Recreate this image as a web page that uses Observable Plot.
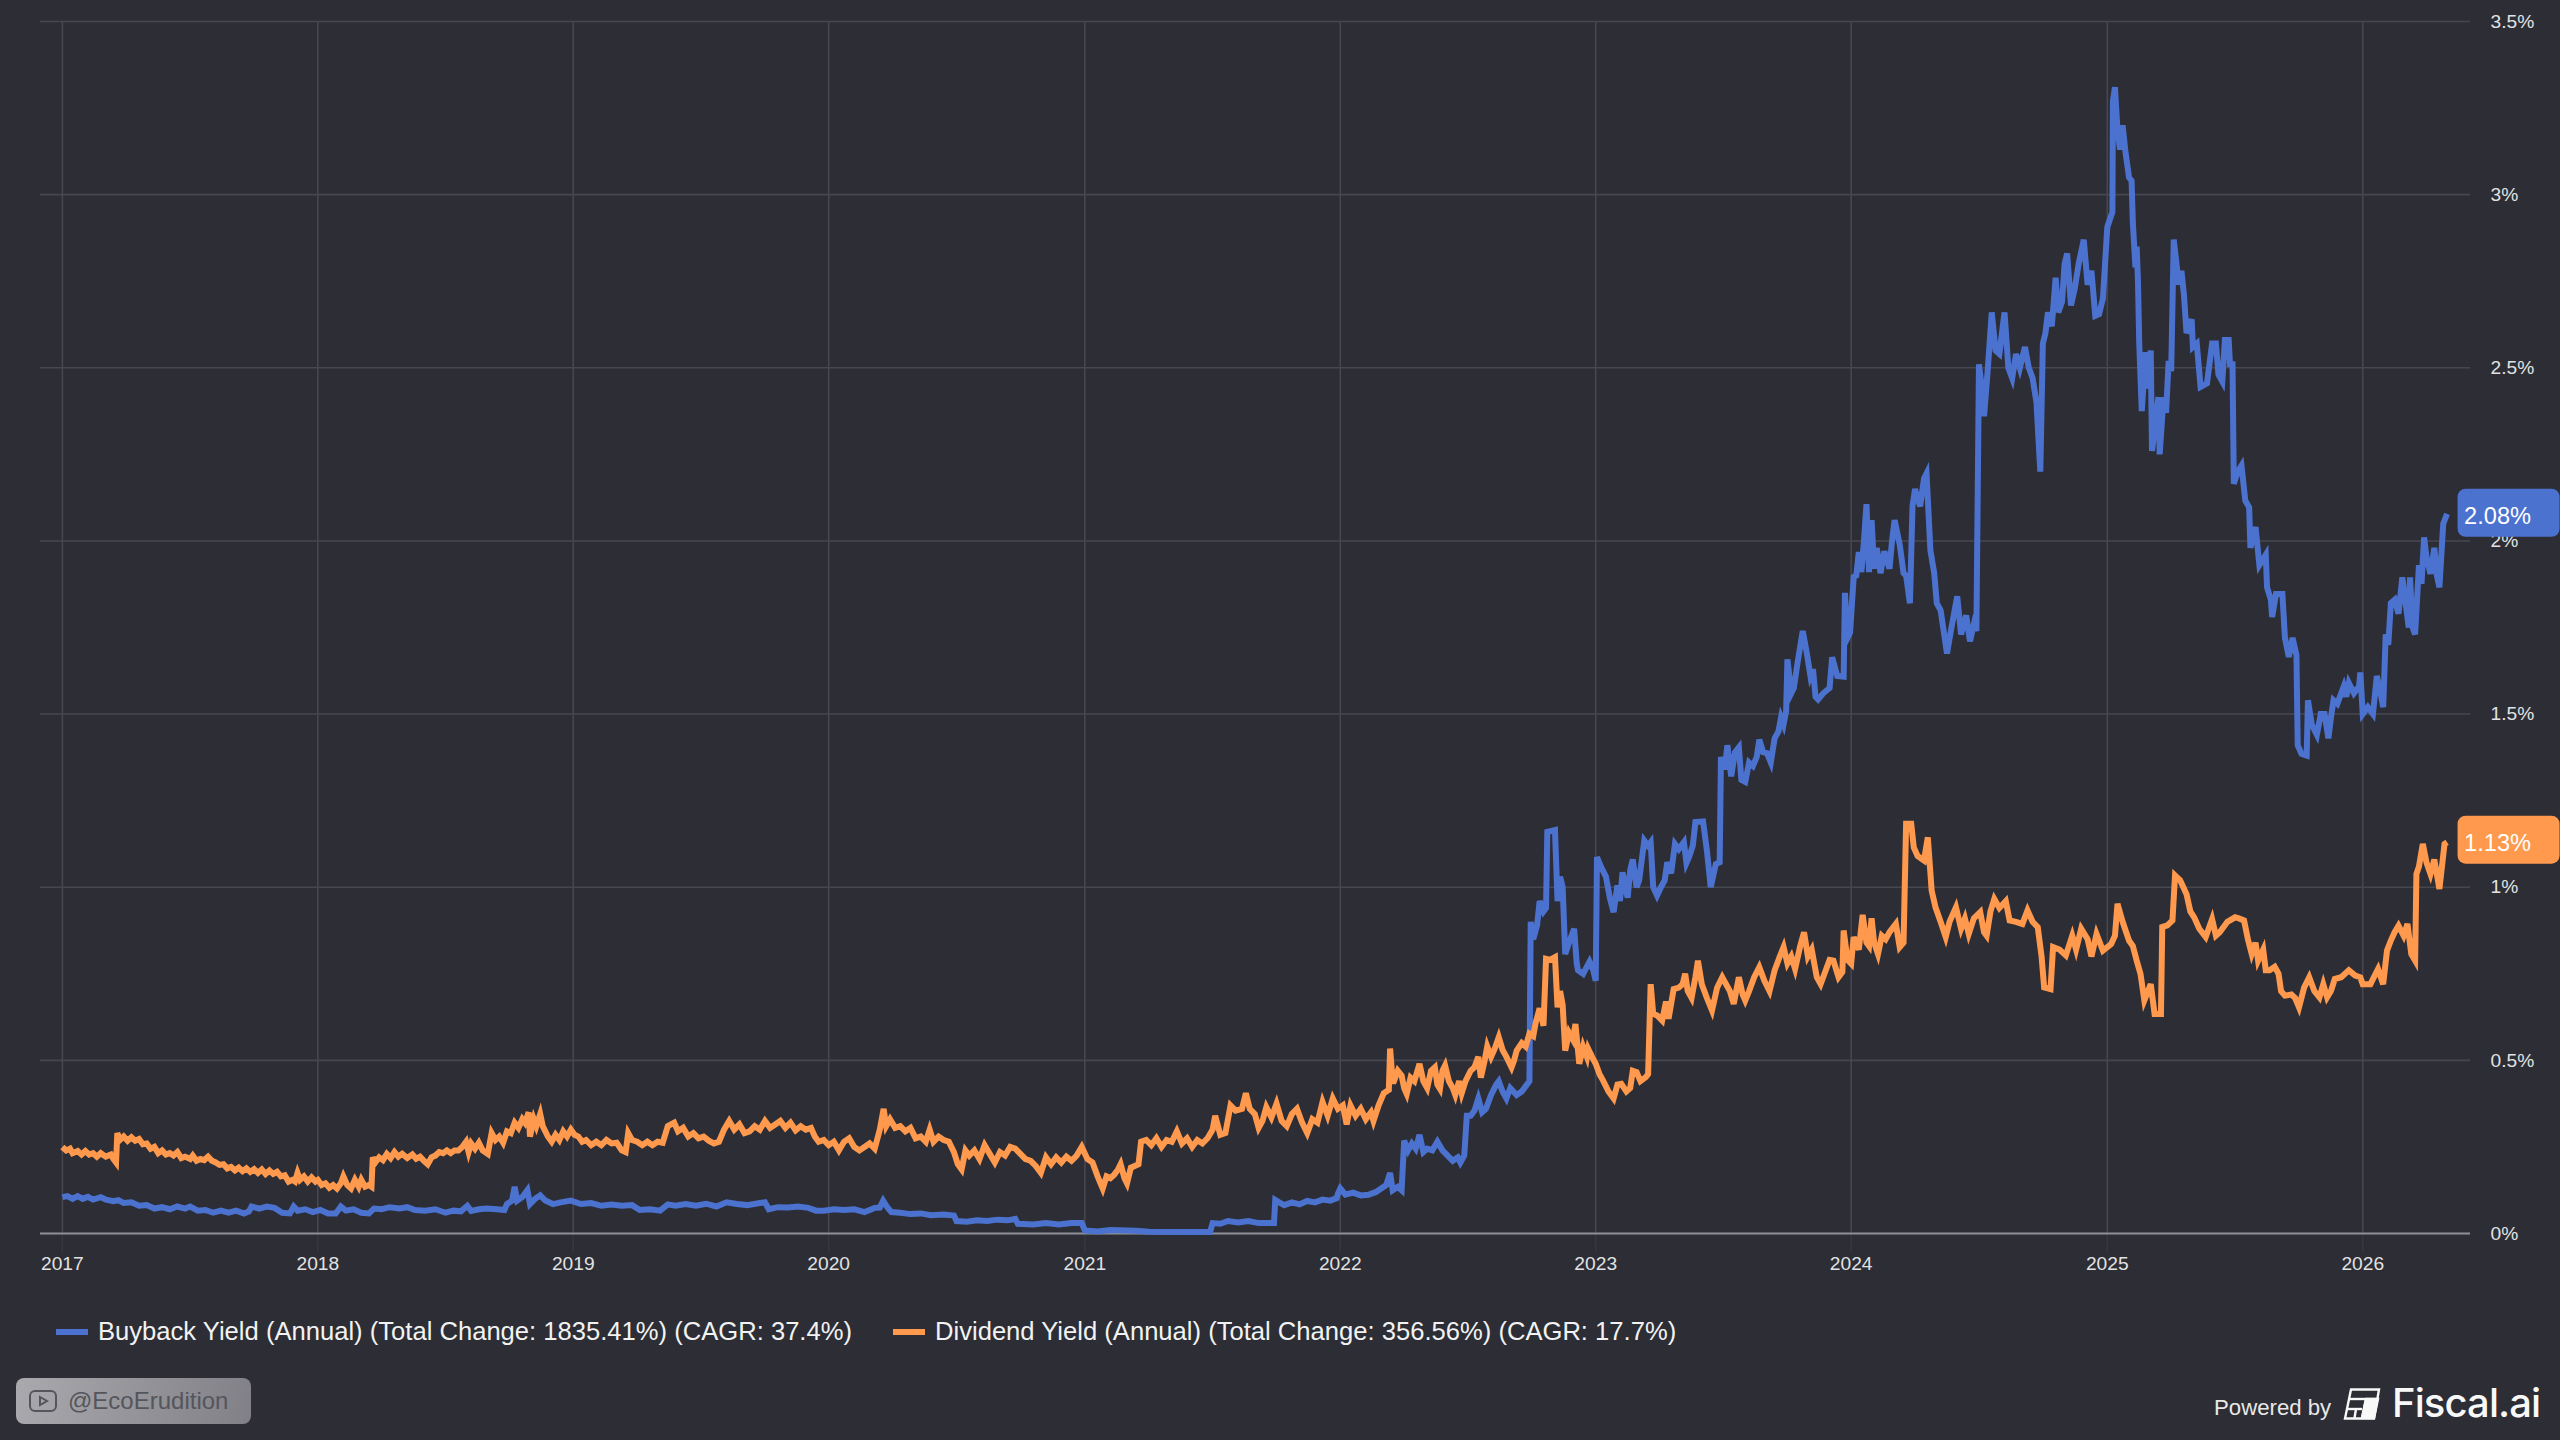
<!DOCTYPE html>
<html><head><meta charset="utf-8">
<script src="https://cdn.jsdelivr.net/npm/d3@7"></script>
<script src="https://cdn.jsdelivr.net/npm/@observablehq/plot@0.6"></script>
<style>
html,body{margin:0;padding:0;background:#2c2d35;width:2560px;height:1440px;overflow:hidden;font-family:"Liberation Sans",Arial,sans-serif}
#chart{position:absolute;left:0;top:0}
.leg{position:absolute;top:1316px;line-height:30px;font-size:25.6px;color:#f2f2f2;white-space:nowrap}
.sw{position:absolute;top:1329px;height:6px;width:32px}
#wm{position:absolute;left:16px;top:1378px;width:235px;height:46px;border-radius:8px;background:linear-gradient(100deg,#a9a9ae,#808086)}
#wm span{position:absolute;left:52px;top:8px;line-height:30px;font-size:24px;color:#55555c}
#wm svg{position:absolute;left:13px;top:12px}
#pw{position:absolute;left:2214px;top:1394px;line-height:28px;font-size:22.2px;color:#e8e8e8;white-space:nowrap}
#fa{position:absolute;left:2392px;top:1379px;line-height:48px;font-size:40px;font-family:Inter,sans-serif;font-weight:500;color:#f8f8f8;white-space:nowrap;letter-spacing:-.9px}
#fi{position:absolute;left:2343px;top:1388px}
</style></head><body>
<div id="chart"></div>
<div class="sw" style="left:56px;background:#4c72cf"></div>
<div class="leg" style="left:98px">Buyback Yield (Annual) (Total Change: 1835.41%) (CAGR: 37.4%)</div>
<div class="sw" style="left:893px;background:#ff994d"></div>
<div class="leg" style="left:935px">Dividend Yield (Annual) (Total Change: 356.56%) (CAGR: 17.7%)</div>
<div id="wm"><svg width="28" height="24" viewBox="0 0 28 24" fill="none" stroke="#55555c" stroke-width="2"><rect x="1" y="1" width="26" height="20" rx="5"/><path d="M11 7l7 4-7 4z"/></svg><span>@EcoErudition</span></div>
<div id="pw">Powered by</div>
<svg id="fi" width="38" height="32" viewBox="0 0 38 32" fill="none" stroke="#f8f8f8" stroke-width="2.4"><path d="M8 1.5H36L31 30.5H2z"/><path d="M5.5 11H34"/><path d="M3.8 21H19"/><path d="M13 21L11.5 30"/><path d="M23 11L19 30"/><path d="M23 11H35L31 30H19z" fill="#f8f8f8"/></svg>
<div id="fa">Fiscal.ai</div>
<script>
const yTicks=[0,0.5,1,1.5,2,2.5,3,3.5];
const yearTicks=[2017,2018,2019,2020,2021,2022,2023,2024,2025,2026];
const lastBuyback=2.08, lastDividend=1.13;
const dividendYield=[[2017,.25],[2017.015,.24],[2017.03,.245],[2017.04,.232],[2017.06,.238],[2017.075,.228],[2017.09,.238],[2017.105,.228],[2017.12,.232],[2017.135,.222],[2017.15,.232],[2017.17,.222],[2017.19,.228],[2017.2,.215],[2017.21,.205],[2017.215,.29],[2017.225,.27],[2017.24,.28],[2017.255,.268],[2017.27,.278],[2017.285,.268],[2017.3,.273],[2017.315,.258],[2017.33,.26],[2017.345,.245],[2017.36,.25],[2017.375,.232],[2017.39,.24],[2017.405,.228],[2017.42,.232],[2017.435,.225],[2017.45,.235],[2017.465,.218],[2017.48,.222],[2017.5,.215],[2017.51,.225],[2017.525,.21],[2017.54,.215],[2017.555,.212],[2017.57,.222],[2017.585,.21],[2017.6,.205],[2017.615,.198],[2017.63,.2],[2017.645,.188],[2017.66,.192],[2017.675,.182],[2017.69,.19],[2017.705,.18],[2017.72,.188],[2017.735,.178],[2017.75,.186],[2017.765,.175],[2017.78,.185],[2017.795,.172],[2017.81,.182],[2017.825,.172],[2017.84,.178],[2017.855,.165],[2017.87,.168],[2017.885,.15],[2017.9,.155],[2017.91,.15],[2017.92,.175],[2017.93,.155],[2017.945,.165],[2017.96,.15],[2017.975,.162],[2017.99,.15],[2018,.155],[2018.015,.14],[2018.03,.145],[2018.045,.132],[2018.06,.14],[2018.075,.13],[2018.09,.145],[2018.1,.165],[2018.115,.14],[2018.13,.13],[2018.145,.155],[2018.16,.135],[2018.17,.155],[2018.185,.135],[2018.2,.14],[2018.21,.135],[2018.215,.22],[2018.225,.205],[2018.24,.22],[2018.255,.212],[2018.27,.23],[2018.285,.218],[2018.3,.235],[2018.315,.222],[2018.33,.23],[2018.35,.218],[2018.37,.228],[2018.385,.216],[2018.4,.222],[2018.415,.21],[2018.43,.2],[2018.445,.22],[2018.46,.225],[2018.475,.235],[2018.49,.232],[2018.505,.24],[2018.52,.232],[2018.535,.24],[2018.55,.24],[2018.565,.25],[2018.58,.265],[2018.59,.235],[2018.6,.26],[2018.615,.245],[2018.63,.262],[2018.645,.24],[2018.665,.23],[2018.68,.29],[2018.695,.27],[2018.71,.28],[2018.725,.262],[2018.74,.295],[2018.755,.29],[2018.77,.32],[2018.785,.305],[2018.8,.33],[2018.81,.32],[2018.825,.35],[2018.83,.28],[2018.845,.33],[2018.855,.31],[2018.87,.345],[2018.88,.31],[2018.9,.28],[2018.915,.265],[2018.93,.285],[2018.945,.27],[2018.96,.295],[2018.975,.28],[2018.99,.3],[2019.005,.285],[2019.02,.28],[2019.035,.265],[2019.05,.27],[2019.07,.255],[2019.09,.265],[2019.11,.255],[2019.13,.27],[2019.15,.26],[2019.17,.262],[2019.19,.24],[2019.205,.235],[2019.215,.29],[2019.23,.27],[2019.25,.265],[2019.27,.255],[2019.29,.265],[2019.31,.255],[2019.33,.265],[2019.35,.262],[2019.37,.31],[2019.395,.32],[2019.41,.295],[2019.43,.305],[2019.45,.28],[2019.47,.29],[2019.49,.275],[2019.51,.28],[2019.53,.268],[2019.55,.26],[2019.57,.265],[2019.59,.3],[2019.61,.325],[2019.63,.3],[2019.65,.315],[2019.67,.29],[2019.69,.295],[2019.71,.31],[2019.73,.3],[2019.75,.325],[2019.77,.305],[2019.79,.315],[2019.81,.325],[2019.83,.305],[2019.85,.32],[2019.87,.298],[2019.89,.31],[2019.91,.3],[2019.93,.305],[2019.945,.28],[2019.96,.265],[2019.98,.27],[2020,.255],[2020.02,.265],[2020.04,.24],[2020.06,.265],[2020.08,.275],[2020.1,.25],[2020.12,.24],[2020.14,.25],[2020.16,.26],[2020.18,.245],[2020.2,.3],[2020.215,.36],[2020.225,.31],[2020.24,.33],[2020.26,.305],[2020.28,.31],[2020.3,.295],[2020.32,.305],[2020.34,.275],[2020.36,.28],[2020.38,.265],[2020.395,.3],[2020.41,.265],[2020.43,.28],[2020.45,.27],[2020.47,.265],[2020.49,.235],[2020.505,.2],[2020.52,.185],[2020.535,.24],[2020.55,.225],[2020.57,.24],[2020.59,.215],[2020.61,.255],[2020.63,.23],[2020.65,.205],[2020.67,.235],[2020.69,.225],[2020.71,.25],[2020.73,.245],[2020.75,.23],[2020.77,.215],[2020.79,.21],[2020.81,.195],[2020.83,.175],[2020.85,.22],[2020.87,.2],[2020.89,.22],[2020.91,.205],[2020.93,.222],[2020.95,.21],[2020.97,.225],[2020.99,.25],[2021.01,.215],[2021.03,.205],[2021.05,.165],[2021.07,.13],[2021.085,.165],[2021.1,.16],[2021.115,.17],[2021.13,.185],[2021.14,.2],[2021.155,.16],[2021.165,.145],[2021.18,.19],[2021.195,.195],[2021.21,.2],[2021.22,.265],[2021.24,.27],[2021.26,.255],[2021.28,.275],[2021.3,.25],[2021.32,.27],[2021.34,.265],[2021.36,.295],[2021.38,.26],[2021.4,.275],[2021.42,.25],[2021.44,.27],[2021.46,.26],[2021.48,.275],[2021.5,.3],[2021.51,.34],[2021.53,.285],[2021.55,.29],[2021.57,.37],[2021.59,.355],[2021.615,.36],[2021.63,.405],[2021.645,.36],[2021.665,.345],[2021.68,.305],[2021.695,.325],[2021.71,.365],[2021.73,.335],[2021.75,.375],[2021.77,.325],[2021.79,.31],[2021.81,.345],[2021.83,.36],[2021.85,.32],[2021.87,.29],[2021.89,.33],[2021.91,.32],[2021.93,.38],[2021.95,.34],[2021.97,.39],[2021.99,.36],[2022.01,.37],[2022.025,.315],[2022.04,.37],[2022.06,.34],[2022.08,.36],[2022.1,.33],[2022.12,.35],[2022.13,.325],[2022.15,.37],[2022.17,.405],[2022.19,.415],[2022.195,.534],[2022.205,.44],[2022.21,.44],[2022.225,.47],[2022.24,.456],[2022.25,.42],[2022.26,.403],[2022.275,.45],[2022.29,.44],[2022.31,.49],[2022.325,.44],[2022.34,.42],[2022.355,.47],[2022.37,.48],[2022.38,.43],[2022.39,.418],[2022.4,.47],[2022.41,.485],[2022.425,.44],[2022.44,.42],[2022.45,.4],[2022.465,.44],[2022.475,.405],[2022.49,.44],[2022.51,.47],[2022.525,.48],[2022.54,.51],[2022.55,.45],[2022.565,.5],[2022.575,.54],[2022.59,.51],[2022.605,.535],[2022.62,.567],[2022.635,.53],[2022.65,.51],[2022.67,.48],[2022.68,.5],[2022.69,.528],[2022.71,.55],[2022.725,.54],[2022.74,.577],[2022.755,.57],[2022.765,.61],[2022.78,.65],[2022.795,.6],[2022.805,.793],[2022.82,.79],[2022.84,.798],[2022.85,.653],[2022.86,.7],[2022.87,.66],[2022.88,.528],[2022.895,.58],[2022.91,.56],[2022.92,.605],[2022.935,.49],[2022.95,.54],[2022.965,.51],[2022.97,.533],[2022.985,.51],[2023,.49],[2023.015,.46],[2023.03,.44],[2023.05,.41],[2023.07,.39],[2023.085,.43],[2023.1,.432],[2023.12,.41],[2023.135,.42],[2023.145,.47],[2023.16,.466],[2023.175,.44],[2023.195,.451],[2023.205,.46],[2023.215,.72],[2023.225,.634],[2023.24,.63],[2023.26,.615],[2023.275,.67],[2023.285,.62],[2023.305,.706],[2023.325,.71],[2023.34,.72],[2023.35,.75],[2023.36,.7],[2023.375,.68],[2023.39,.74],[2023.4,.788],[2023.415,.72],[2023.435,.68],[2023.455,.644],[2023.475,.71],[2023.495,.74],[2023.51,.72],[2023.525,.7],[2023.54,.663],[2023.56,.74],[2023.575,.69],[2023.585,.673],[2023.6,.7],[2023.62,.74],[2023.64,.769],[2023.66,.73],[2023.68,.7],[2023.7,.76],[2023.72,.8],[2023.735,.827],[2023.75,.78],[2023.765,.8],[2023.78,.764],[2023.8,.83],[2023.815,.87],[2023.83,.8],[2023.845,.82],[2023.865,.74],[2023.88,.72],[2023.9,.76],[2023.915,.79],[2023.93,.788],[2023.95,.74],[2023.965,.755],[2023.97,.875],[2023.985,.79],[2024,.779],[2024.01,.856],[2024.03,.82],[2024.045,.92],[2024.06,.84],[2024.07,.83],[2024.08,.91],[2024.09,.84],[2024.105,.807],[2024.12,.86],[2024.135,.85],[2024.15,.87],[2024.175,.894],[2024.19,.827],[2024.205,.84],[2024.215,1.183],[2024.235,1.183],[2024.245,1.115],[2024.26,1.09],[2024.285,1.077],[2024.3,1.144],[2024.315,.99],[2024.33,.942],[2024.35,.9],[2024.37,.856],[2024.385,.9],[2024.41,.942],[2024.43,.88],[2024.445,.91],[2024.46,.865],[2024.48,.91],[2024.505,.928],[2024.52,.87],[2024.53,.86],[2024.545,.93],[2024.56,.966],[2024.58,.94],[2024.605,.96],[2024.62,.904],[2024.645,.9],[2024.67,.894],[2024.69,.933],[2024.71,.9],[2024.73,.885],[2024.745,.8],[2024.755,.711],[2024.78,.706],[2024.79,.827],[2024.815,.82],[2024.84,.803],[2024.865,.86],[2024.88,.82],[2024.9,.88],[2024.925,.85],[2024.94,.8],[2024.96,.865],[2024.985,.817],[2025.015,.836],[2025.03,.86],[2025.04,.952],[2025.06,.9],[2025.085,.846],[2025.1,.83],[2025.115,.788],[2025.13,.75],[2025.145,.673],[2025.17,.72],[2025.185,.634],[2025.21,.634],[2025.215,.885],[2025.235,.89],[2025.255,.904],[2025.265,1.034],[2025.285,1.02],[2025.31,.98],[2025.325,.93],[2025.34,.913],[2025.36,.88],[2025.385,.856],[2025.41,.908],[2025.425,.86],[2025.44,.87],[2025.47,.9],[2025.5,.913],[2025.515,.91],[2025.535,.904],[2025.55,.85],[2025.565,.807],[2025.58,.84],[2025.59,.788],[2025.61,.82],[2025.62,.76],[2025.635,.76],[2025.655,.77],[2025.67,.75],[2025.68,.7],[2025.695,.687],[2025.72,.69],[2025.735,.68],[2025.75,.653],[2025.77,.71],[2025.79,.74],[2025.81,.7],[2025.83,.682],[2025.845,.72],[2025.86,.682],[2025.875,.7],[2025.89,.735],[2025.915,.74],[2025.945,.76],[2025.97,.745],[2025.99,.74],[2026,.72],[2026.03,.72],[2026.06,.764],[2026.08,.72],[2026.095,.817],[2026.11,.846],[2026.125,.87],[2026.14,.889],[2026.16,.86],[2026.175,.894],[2026.19,.807],[2026.205,.788],[2026.21,1.038],[2026.22,1.06],[2026.235,1.125],[2026.25,1.07],[2026.265,1.038],[2026.28,1.08],[2026.3,.995],[2026.32,1.125],[2026.33,1.13]];
const buybackYield=[[2017,.105],[2017.02,.108],[2017.04,.1],[2017.06,.108],[2017.08,.1],[2017.1,.106],[2017.12,.098],[2017.15,.105],[2017.17,.098],[2017.2,.093],[2017.22,.096],[2017.24,.088],[2017.27,.09],[2017.3,.08],[2017.33,.082],[2017.36,.072],[2017.39,.076],[2017.42,.07],[2017.45,.078],[2017.48,.072],[2017.5,.078],[2017.53,.066],[2017.56,.068],[2017.59,.06],[2017.62,.066],[2017.65,.06],[2017.68,.066],[2017.71,.058],[2017.73,.064],[2017.74,.078],[2017.77,.072],[2017.8,.078],[2017.83,.074],[2017.86,.06],[2017.89,.058],[2017.905,.078],[2017.92,.066],[2017.95,.07],[2017.98,.062],[2018.01,.068],[2018.04,.058],[2018.07,.058],[2018.09,.078],[2018.11,.066],[2018.14,.07],[2018.17,.06],[2018.2,.058],[2018.22,.072],[2018.25,.07],[2018.28,.076],[2018.32,.072],[2018.35,.076],[2018.38,.068],[2018.42,.066],[2018.46,.07],[2018.5,.06],[2018.53,.066],[2018.56,.064],[2018.585,.08],[2018.6,.065],[2018.63,.07],[2018.66,.072],[2018.7,.07],[2018.73,.068],[2018.74,.085],[2018.76,.095],[2018.77,.135],[2018.78,.095],[2018.8,.105],[2018.82,.125],[2018.83,.085],[2018.85,.1],[2018.87,.11],[2018.89,.095],[2018.92,.085],[2018.95,.09],[2018.99,.095],[2019.03,.085],[2019.07,.088],[2019.11,.08],[2019.15,.084],[2019.19,.08],[2019.23,.082],[2019.26,.068],[2019.3,.07],[2019.34,.066],[2019.37,.084],[2019.4,.08],[2019.44,.085],[2019.48,.08],[2019.52,.086],[2019.56,.078],[2019.6,.09],[2019.64,.085],[2019.68,.082],[2019.73,.088],[2019.75,.09],[2019.765,.07],[2019.8,.076],[2019.84,.075],[2019.88,.078],[2019.92,.074],[2019.95,.066],[2019.98,.066],[2020.02,.07],[2020.06,.068],[2020.1,.07],[2020.14,.062],[2020.18,.074],[2020.2,.075],[2020.213,.095],[2020.23,.075],[2020.245,.062],[2020.28,.06],[2020.32,.056],[2020.36,.058],[2020.4,.053],[2020.45,.055],[2020.49,.052],[2020.5,.036],[2020.54,.034],[2020.58,.038],[2020.62,.036],[2020.66,.04],[2020.7,.038],[2020.73,.042],[2020.74,.028],[2020.8,.026],[2020.85,.03],[2020.9,.026],[2020.95,.03],[2020.99,.03],[2021,.009],[2021.05,.006],[2021.1,.01],[2021.2,.008],[2021.25,.005],[2021.35,.004],[2021.49,.004],[2021.5,.03],[2021.53,.028],[2021.56,.036],[2021.6,.032],[2021.64,.036],[2021.68,.03],[2021.74,.03],[2021.745,.097],[2021.76,.09],[2021.78,.082],[2021.81,.09],[2021.84,.084],[2021.87,.094],[2021.9,.09],[2021.93,.098],[2021.96,.095],[2021.985,.102],[2021.99,.115],[2022,.13],[2022.02,.112],[2022.05,.118],[2022.08,.11],[2022.11,.112],[2022.14,.12],[2022.16,.13],[2022.18,.14],[2022.195,.175],[2022.205,.125],[2022.225,.135],[2022.24,.125],[2022.25,.268],[2022.265,.24],[2022.28,.26],[2022.295,.245],[2022.31,.285],[2022.325,.235],[2022.34,.245],[2022.36,.24],[2022.38,.265],[2022.4,.24],[2022.42,.225],[2022.44,.21],[2022.46,.22],[2022.47,.205],[2022.485,.225],[2022.495,.34],[2022.51,.34],[2022.525,.355],[2022.54,.39],[2022.555,.35],[2022.57,.36],[2022.59,.4],[2022.61,.43],[2022.62,.44],[2022.635,.41],[2022.65,.39],[2022.665,.42],[2022.69,.4],[2022.71,.41],[2022.73,.43],[2022.74,.44],[2022.745,.9],[2022.755,.85],[2022.77,.89],[2022.78,.96],[2022.795,.93],[2022.805,.94],[2022.81,1.16],[2022.84,1.165],[2022.85,.96],[2022.86,1.03],[2022.87,1],[2022.88,.807],[2022.895,.84],[2022.915,.88],[2022.925,.78],[2022.93,.76],[2022.95,.75],[2022.975,.785],[2022.99,.76],[2023,.73],[2023.005,1.087],[2023.02,1.06],[2023.04,1.03],[2023.055,.97],[2023.07,.928],[2023.085,1.005],[2023.095,.96],[2023.105,1.043],[2023.125,.97],[2023.135,1.05],[2023.145,1.08],[2023.16,1],[2023.17,1.02],[2023.19,1.135],[2023.205,1.12],[2023.215,1.13],[2023.225,1],[2023.24,.976],[2023.255,1],[2023.27,1.02],[2023.28,1.072],[2023.295,1.04],[2023.31,1.125],[2023.325,1.11],[2023.345,1.13],[2023.355,1.07],[2023.365,1.087],[2023.38,1.12],[2023.39,1.188],[2023.42,1.19],[2023.435,1.106],[2023.45,1],[2023.47,1.067],[2023.485,1.072],[2023.49,1.376],[2023.505,1.34],[2023.515,1.41],[2023.53,1.32],[2023.545,1.39],[2023.56,1.404],[2023.57,1.31],[2023.585,1.304],[2023.6,1.36],[2023.615,1.35],[2023.63,1.376],[2023.64,1.426],[2023.655,1.39],[2023.67,1.387],[2023.685,1.36],[2023.7,1.43],[2023.715,1.45],[2023.725,1.49],[2023.735,1.47],[2023.745,1.509],[2023.75,1.658],[2023.765,1.56],[2023.775,1.575],[2023.79,1.65],[2023.81,1.74],[2023.825,1.68],[2023.84,1.61],[2023.85,1.63],[2023.86,1.55],[2023.87,1.542],[2023.89,1.56],[2023.915,1.575],[2023.925,1.664],[2023.945,1.61],[2023.97,1.608],[2023.975,1.85],[2023.985,1.72],[2023.995,1.735],[2024.01,1.896],[2024.02,1.9],[2024.03,1.968],[2024.04,1.91],[2024.05,2],[2024.06,2.106],[2024.07,1.91],[2024.08,2.06],[2024.09,1.92],[2024.1,1.98],[2024.115,1.907],[2024.13,1.97],[2024.15,1.92],[2024.16,2],[2024.17,2.06],[2024.19,1.99],[2024.205,1.907],[2024.215,1.9],[2024.23,1.82],[2024.24,2.1],[2024.25,2.15],[2024.27,2.1],[2024.285,2.18],[2024.295,2.195],[2024.31,1.973],[2024.325,1.907],[2024.335,1.82],[2024.35,1.8],[2024.36,1.75],[2024.375,1.675],[2024.39,1.74],[2024.415,1.84],[2024.43,1.73],[2024.45,1.785],[2024.465,1.71],[2024.48,1.76],[2024.49,1.74],[2024.5,2.51],[2024.51,2.45],[2024.52,2.36],[2024.535,2.5],[2024.55,2.66],[2024.565,2.55],[2024.58,2.54],[2024.59,2.6],[2024.6,2.66],[2024.615,2.5],[2024.63,2.47],[2024.645,2.54],[2024.66,2.5],[2024.68,2.56],[2024.695,2.5],[2024.71,2.47],[2024.725,2.4],[2024.74,2.2],[2024.75,2.57],[2024.76,2.6],[2024.77,2.66],[2024.785,2.62],[2024.8,2.76],[2024.81,2.66],[2024.825,2.69],[2024.835,2.8],[2024.845,2.83],[2024.86,2.68],[2024.875,2.73],[2024.89,2.8],[2024.91,2.87],[2024.925,2.74],[2024.94,2.78],[2024.955,2.65],[2024.97,2.655],[2024.985,2.7],[2025,2.906],[2025.02,2.95],[2025.022,3.27],[2025.03,3.31],[2025.04,3.185],[2025.05,3.13],[2025.06,3.2],[2025.07,3.13],[2025.085,3.05],[2025.095,3.04],[2025.1,2.92],[2025.11,2.79],[2025.115,2.85],[2025.12,2.75],[2025.125,2.57],[2025.135,2.375],[2025.15,2.545],[2025.16,2.44],[2025.17,2.55],[2025.175,2.26],[2025.2,2.415],[2025.205,2.25],[2025.22,2.415],[2025.23,2.37],[2025.24,2.52],[2025.25,2.49],[2025.26,2.87],[2025.28,2.74],[2025.29,2.78],[2025.3,2.71],[2025.31,2.6],[2025.33,2.64],[2025.335,2.56],[2025.35,2.57],[2025.365,2.445],[2025.39,2.455],[2025.41,2.57],[2025.425,2.57],[2025.435,2.48],[2025.45,2.46],[2025.46,2.58],[2025.475,2.58],[2025.48,2.51],[2025.49,2.51],[2025.495,2.165],[2025.51,2.2],[2025.525,2.218],[2025.54,2.116],[2025.555,2.097],[2025.56,1.98],[2025.58,2.04],[2025.595,1.93],[2025.62,1.96],[2025.625,1.866],[2025.64,1.83],[2025.645,1.78],[2025.66,1.847],[2025.685,1.847],[2025.695,1.72],[2025.71,1.665],[2025.725,1.72],[2025.74,1.67],[2025.745,1.41],[2025.76,1.385],[2025.78,1.38],[2025.785,1.54],[2025.8,1.47],[2025.82,1.44],[2025.835,1.5],[2025.85,1.5],[2025.865,1.43],[2025.875,1.49],[2025.885,1.54],[2025.9,1.53],[2025.925,1.58],[2025.935,1.55],[2025.945,1.59],[2025.965,1.56],[2025.985,1.58],[2025.99,1.62],[2026,1.5],[2026.02,1.52],[2026.04,1.5],[2026.055,1.61],[2026.07,1.56],[2026.08,1.52],[2026.09,1.73],[2026.1,1.7],[2026.11,1.82],[2026.125,1.83],[2026.14,1.79],[2026.155,1.895],[2026.18,1.75],[2026.185,1.895],[2026.195,1.75],[2026.205,1.73],[2026.22,1.93],[2026.23,1.876],[2026.24,2.01],[2026.25,1.95],[2026.265,1.905],[2026.28,1.98],[2026.29,1.9],[2026.3,1.866],[2026.315,2.05],[2026.33,2.078]];
const toDate=t=>{const y=Math.floor(t);return new Date(Date.UTC(y,0,1)+(t-y)*365.25*864e5)};
const BLUE="#4c72cf",ORANGE="#ff994d",GRID="#464751";
const rows=a=>a.map(([t,v])=>({date:toDate(t),v}));
const endDate=toDate(2026.33);
const tag=(v,c,dy,tdy)=>[
  Plot.rect([v],{x1:()=>endDate,x2:()=>endDate,y1:d=>d,y2:d=>d,insetLeft:11,insetRight:-113,insetTop:-24+dy,insetBottom:-24-dy,rx:8,fill:c}),
  Plot.text([v],{x:()=>endDate,y:d=>d,text:d=>d.toFixed(2)+"%",dx:17,dy:tdy,textAnchor:"start",fontSize:23.6,fill:"#fff"})
];
const lineOpts=c=>({x:"date",y:"v",stroke:c,strokeWidth:6,strokeLinejoin:"miter",strokeLinecap:"butt",strokeMiterlimit:4});
const chart=Plot.plot({
  width:2560,height:1300,marginTop:21,marginBottom:67,marginLeft:40,marginRight:90,
  style:{background:"transparent",fontFamily:'"Liberation Sans",Arial,sans-serif',overflow:"visible"},
  x:{type:"utc",domain:[new Date(Date.UTC(2016,10,30,18)),new Date(Date.UTC(2026,5,4))]},
  y:{domain:[0,3.5]},
  marks:[
    Plot.gridY(yTicks,{stroke:GRID,strokeOpacity:1,strokeWidth:1.6}),
    Plot.gridX(yearTicks.map(y=>toDate(y)),{stroke:GRID,strokeOpacity:1,strokeWidth:1.6}),
    Plot.axisX(yearTicks.map(y=>toDate(y)),{anchor:"bottom",tickFormat:d3.utcFormat("%Y"),tickSize:19,tickPadding:4,stroke:"#37383f",strokeWidth:1.6,strokeOpacity:1,fontSize:19.2,fill:"#e2e2e2",label:null}),
    Plot.axisY(yTicks,{anchor:"right",tickFormat:d=>d+"%",tickSize:0,tickPadding:20,fontSize:19.2,fill:"#e2e2e2",label:null}),
    Plot.ruleY([0],{stroke:"#8e8e96",strokeWidth:2}),
    Plot.line(rows(buybackYield),lineOpts(BLUE)),
    Plot.line(rows(dividendYield),lineOpts(ORANGE)),
    ...tag(lastBuyback,BLUE,0,3),
    ...tag(lastDividend,ORANGE,-2,1)
  ]
});
document.getElementById("chart").append(chart);
</script>
</body></html>
